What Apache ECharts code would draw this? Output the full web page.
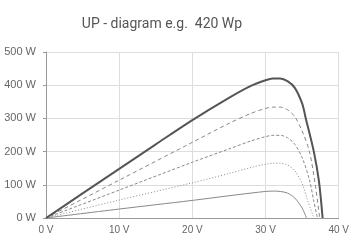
<!DOCTYPE html>
<html>
<head>
<meta charset="utf-8">
<script src="https://cdn.jsdelivr.net/npm/echarts@6/dist/echarts.min.js"></script>
<style>
  html, body { margin: 0; padding: 0; background: #fff; }
  #main { width: 352px; height: 243px; }
</style>
</head>
<body>
<div id="main"></div>
<script>
// irradiance curves, [volts, watts]
var p100 = [[0,0],[5,74],[10,148],[15,222],[20,295],[25,362],[28,398],[30,415],[31,420],[32,420],[33,412],[34,392],[35,345],[35.5,300],[36.6,200],[37.3,110],[37.8,0]];
var p80 = [[0,0],[10,114],[20,228],[25,285],[28,315],[30,330],[31,334],[32,334],[33,326],[34,305],[35,262],[36,200],[36.8,100],[37.4,0]];
var p60 = [[0,0],[10,84],[20,168],[25,208],[28,232],[30,245],[31,249],[32,249],[33,242],[34,222],[35,182],[36,115],[36.6,50],[37.1,0]];
var p40 = [[0,0],[10,54],[20,106],[25,134],[28,152],[30,162],[31,165],[32,165],[33,160],[34,142],[35,104],[35.8,50],[36.6,0]];
var p20 = [[0,0],[10,27],[20,53],[25,67],[28,75],[30,80],[31,81],[32,80],[33,75],[34,60],[35,30],[35.6,0]];

var chart = echarts.init(document.getElementById('main'));

function line(data, color, width, type) {
  return {
    type: 'line', data: data, showSymbol: false, smooth: 0.3,
    lineStyle: { color: color, width: width, type: type }
  };
}

chart.setOption({
  animation: false,
  title: {
    text: 'UP - diagram e.g.  420 Wp',
    left: 157, top: 12, textAlign: 'center',
    textStyle: { fontSize: 14, fontWeight: 'normal', color: '#555', fontFamily: 'Roboto, sans-serif' }
  },
  grid: { left: 46, right: 10, top: 52, bottom: 25 },
  xAxis: {
    type: 'value', min: 0, max: 40, interval: 10,
    axisLine: { lineStyle: { color: '#999' } },
    axisTick: { show: false },
    axisLabel: { formatter: '{value} V', color: '#666', fontSize: 10, margin: 7 },
    splitLine: { lineStyle: { color: '#ddd' } }
  },
  yAxis: {
    type: 'value', min: 0, max: 500, interval: 100,
    axisLine: { show: true, lineStyle: { color: '#999' } },
    axisTick: { show: true, length: 3, lineStyle: { color: '#999' } },
    axisLabel: { formatter: '{value} W', color: '#666', fontSize: 11, margin: 10 },
    splitLine: { lineStyle: { color: '#ddd' } }
  },
  series: [
    line(p20, '#888', 1, 'solid'),
    line(p40, '#888', 1, [1, 2]),
    line(p60, '#888', 1, [3, 2]),
    line(p80, '#888', 1, [4, 3]),
    line(p100, '#555', 2, 'solid')
  ]
});
</script>
</body>
</html>
